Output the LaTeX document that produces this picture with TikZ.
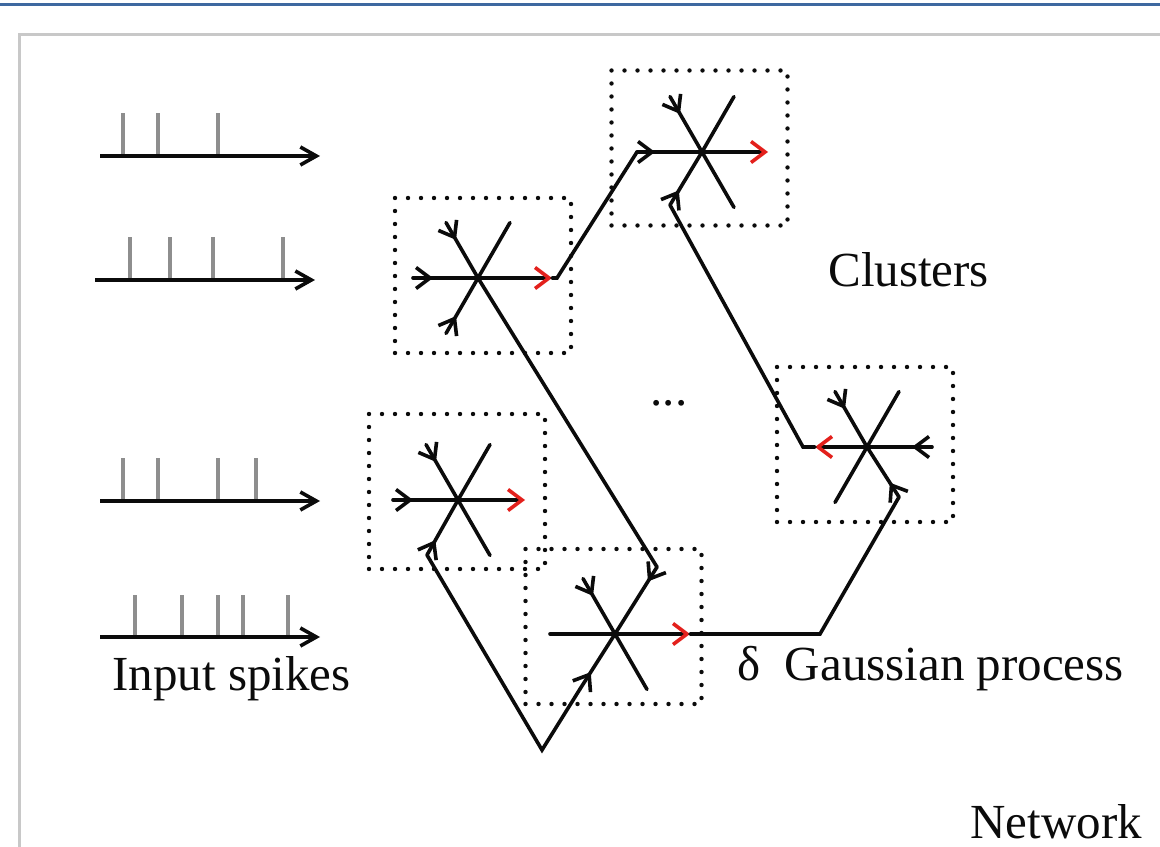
\documentclass[tikz,border=0pt]{standalone}
\usepackage{fontspec}
\setmainfont{Liberation Serif}
\usetikzlibrary{arrows.meta,calc,decorations.markings}
\definecolor{cInk}{HTML}{0B0B0B}
\definecolor{cRed}{HTML}{E3201C}
\definecolor{cSpike}{HTML}{8E8E8E}
\definecolor{cFrame}{HTML}{C8C8C8}
\definecolor{cBar}{HTML}{3E68A0}
\tikzset{
  lab/.style={anchor=base west, inner sep=0pt, text=cInk},
}

\begin{document}
\begin{tikzpicture}[
  x=0.5pt, y=0.5pt,
  font=\fontsize{24.5pt}{29pt}\selectfont,
  ray/.style={line width=1.8pt, cInk, line cap=round},
  inray/.style={ray, postaction={decorate}, decoration={markings,
    mark=at position #1 with {\arrow[line width=1.8pt]{Straight Barb[length=7pt,width=10.5pt]}}}},
  inray/.default=10pt,
  outray/.style={ray, -{Straight Barb[length=7pt,width=10.5pt,color=cRed]}},
  clusterbox/.style={draw=cInk, line width=2.2pt, dash pattern=on 0pt off 6.5pt,
    line cap=round, minimum width=88pt, minimum height=77.5pt, inner sep=0pt},
  train/.style={line width=1.8pt, cInk, -{Straight Barb[length=8pt,width=9pt]}},
  spike/.style={line width=1.6pt, cSpike},
]
\useasboundingbox (0,0) rectangle (1160,846);
% page furniture
\draw[cBar, line width=1.5pt] (0,841.5) -- (1160,841.5);
\draw[cFrame, line width=1.5pt] (19.5,-20) |- (1180,811.5);
% cluster centres
\coordinate (cA) at (478,568);
\coordinate (cB) at (702,694);
\coordinate (cC) at (458,346);
\coordinate (cD) at (615,212);
\coordinate (cE) at (867,399);
% dotted boxes
\node[clusterbox] (bA) at (483,570.5) {};
\node[clusterbox] (bB) at (699.5,698) {};
\node[clusterbox] (bC) at (457,354.5) {};
\node[clusterbox] (bD) at (613.5,219.5) {};
\node[clusterbox] (bE) at (865,401.5) {};
% outputs and corners
\coordinate (oA) at (552,568);
\coordinate (oB) at (768,694);
\coordinate (oC) at (525,346);
\coordinate (oD) at (690,212);
\coordinate (oE) at (815,399);
\coordinate (kAB1) at (557,568);
\coordinate (kAB2) at (637,694);
\coordinate (kAD) at (657,279);
\coordinate (kCD1) at (427,291);
\coordinate (kCD2) at (542,96);
\coordinate (kCD3) at (580,157);
\coordinate (kDE1) at (820,212);
\coordinate (kDE2) at (899,349);
\coordinate (kEB1) at (803,399);
\coordinate (kEB2) at (670,641);
% star A
\draw[inray] ($(cA)+(180:65)$) -- (cA);
\draw[inray] ($(cA)+(120:64)$) -- (cA);
\draw[inray] ($(cA)+(240:64)$) -- (cA);
\draw[ray] (cA) -- ++(60:64);
\draw[outray] (cA) -- (oA);
% star B
\draw[inray] ($(cB)+(120:64)$) -- (cB);
\draw[ray] (cB) -- ++(60:64);
\draw[ray] (cB) -- ++(300:64);
\draw[outray] (cB) -- (oB);
% star C
\draw[inray] ($(cC)+(180:65)$) -- (cC);
\draw[inray] ($(cC)+(120:64)$) -- (cC);
\draw[ray] (cC) -- ++(60:64);
\draw[ray] (cC) -- ++(300:64);
\draw[outray] (cC) -- (oC);
% star D
\draw[ray] ($(cD)+(180:65)$) -- (cD);
\draw[inray] ($(cD)+(120:64)$) -- (cD);
\draw[ray] (cD) -- ++(300:64);
\draw[outray] (cD) -- (oD);
% star E
\draw[inray] ($(cE)+(0:65)$) -- (cE);
\draw[inray] ($(cE)+(120:64)$) -- (cE);
\draw[ray] (cE) -- ++(60:64);
\draw[ray] (cE) -- ++(240:64);
\draw[outray] (cE) -- (oE);
% links between clusters
\draw[ray] (oA) -- (kAB1) -- (kAB2);
\draw[inray=9pt] (kAB2) -- (cB);
\draw[ray] (cA) -- (kAD);
\draw[inray=8.5pt] (kAD) -- (cD);
\draw[inray=8.5pt] (kCD1) -- (cC);
\draw[ray] (kCD1) -- (kCD2) -- (kCD3);
\draw[inray] (kCD3) -- (cD);
\draw[ray] (oD) -- (kDE1) -- (kDE2);
\draw[inray=8.5pt] (kDE2) -- (cE);
\draw[ray] (oE) -- (kEB1) -- (kEB2);
\draw[inray=8.5pt] (kEB2) -- (cB);
% input spikes
\draw[spike] (123,690) -- ++(0,43) (158,690) -- ++(0,43) (218,690) -- ++(0,43);
\draw[train] (100,690) -- (320,690);
\draw[spike] (130,566) -- ++(0,43) (170,566) -- ++(0,43) (213,566) -- ++(0,43)
  (283,566) -- ++(0,43);
\draw[train] (95,566) -- (315,566);
\draw[spike] (123,345) -- ++(0,43) (158,345) -- ++(0,43) (218,345) -- ++(0,43)
  (256,345) -- ++(0,43);
\draw[train] (100,345) -- (320,345);
\draw[spike] (135,209) -- ++(0,42) (182,209) -- ++(0,42) (218,209) -- ++(0,42)
  (243,209) -- ++(0,42) (288,209) -- ++(0,42);
\draw[train] (100,209) -- (320,209);
% labels
\node[lab] (tClusters) at (828,559) {Clusters};
\node[lab] (tInput) at (112,156) {Input spikes};
\node[lab] (tGauss) at (737,166) {δ~~Gaussian process};
\node[lab] (tNet) at (970,8) {Network};
\node[lab, anchor=base] (tDots) at (669,440) {...};
\end{tikzpicture}
\end{document}
